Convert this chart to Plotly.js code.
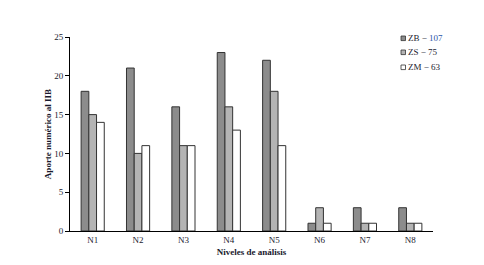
<!DOCTYPE html>
<html><head><meta charset="utf-8">
<script src="https://cdn.plot.ly/plotly-3.0.1.min.js"></script>
<style>body{margin:0;background:#fff}#c{width:484px;height:265px}</style>
</head><body><div id="c"></div>
<script>
const categories = ["N1","N2","N3","N4","N5","N6","N7","N8"];
const zb = [18,21,16,23,22,1,3,3];
const zs = [15,10,11,16,18,3,1,1];
const zm = [14,11,11,13,11,1,1,1];
const seriesNames = ["ZB \u2212 <span style='color:#2a55a8'>107</span>", "ZS \u2212 75", "ZM \u2212 63"];
const fills = ["#8c8c8c", "#b4b4b4", "#ffffff"];
const vals = [zb, zs, zm];
const font = {family: "Liberation Serif, serif", size: 9, color: "#1a1a2e"};
const traces = vals.map((v, i) => ({
  type: "bar", x: categories, y: v, name: seriesNames[i], showlegend: false,
  marker: {color: fills[i], line: {color: "#333333", width: 1}}
}));
// manual legend (paper coordinates)
const W = 363, H = 194;
const legY = [38.3, 52.3, 67.3].map(p => (231 - p) / H);
const shapes = legY.map((y, i) => ({
  type: "rect", xref: "paper", yref: "paper",
  x0: (401 - 70) / W, x1: (405.5 - 70) / W, y0: y - 2.3 / H, y1: y + 2.3 / H,
  fillcolor: fills[i], line: {color: "#333", width: 0.8}
}));
const annotations = legY.map((y, i) => ({
  xref: "paper", yref: "paper", x: (406 - 70) / W, y: y, xanchor: "left", yanchor: "middle",
  showarrow: false, text: seriesNames[i], font: font
}));
Plotly.newPlot("c", traces, {
  width: 484, height: 265,
  margin: {l: 70, r: 51, t: 37, b: 34},
  paper_bgcolor: "#fff", plot_bgcolor: "#fff",
  font: font,
  barmode: "group", bargap: 0.49, bargroupgap: 0,
  showlegend: false,
  shapes: shapes, annotations: annotations,
  xaxis: {type: "category", showline: true, linecolor: "#000", linewidth: 1, ticks: "", showgrid: false,
    tickfont: font, title: {text: "<b>Niveles de análisis</b>", font: font, standoff: 4}},
  yaxis: {range: [0, 25], dtick: 5, showline: true, linecolor: "#000", linewidth: 1, ticks: "outside", ticklen: 4, tickcolor: "#000",
    showgrid: false, zeroline: false, tickfont: font, automargin: false,
    title: {text: "<b>Aporte numérico al IIB</b>", font: font, standoff: 1}}
}, {displayModeBar: false});
</script></body></html>
